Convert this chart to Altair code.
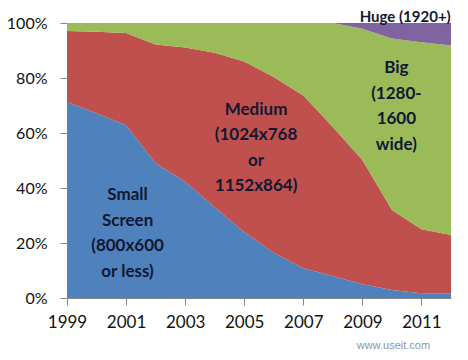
import altair as alt
import pandas as pd

years = list(range(1999, 2013))
small = [71.3, 67.2, 62.8, 49.0, 42.3, 33.0, 24.0, 16.5, 10.8, 8.0, 5.0, 2.9, 1.7, 1.7]
medium = [25.8, 29.6, 33.6, 43.2, 48.8, 56.2, 62.0, 63.9, 62.8, 54.2, 45.2, 29.1, 23.3, 21.2]
big = [2.9, 3.2, 3.6, 7.8, 8.9, 10.8, 14.0, 19.6, 26.4, 37.8, 47.7, 62.4, 68.0, 68.9]
huge = [0.0, 0.0, 0.0, 0.0, 0.0, 0.0, 0.0, 0.0, 0.0, 0.0, 2.1, 5.6, 7.0, 8.2]

series_names = ["Small", "Medium", "Big", "Huge"]
series_values = [small, medium, big, huge]
colors = ["#4F81BD", "#C0504D", "#9BBB59", "#8064A2"]

rows = []
for i, (name, vals) in enumerate(zip(series_names, series_values)):
    for yr, v in zip(years, vals):
        rows.append({"year": yr, "series": name, "share": v, "order": i})
df = pd.DataFrame(rows)

FONT = "Lato"
TXT = "#111833"
AXC = "#868686"

area = alt.Chart(df).mark_area(opacity=1, clip=True).encode(
    x=alt.X("year:Q",
            scale=alt.Scale(domain=[1999, 2012], nice=False, zero=False),
            axis=alt.Axis(values=years, title=None, grid=False,
                          labelExpr="datum.value % 2 == 1 ? datum.value : ''",
                          labelFont=FONT, labelFontSize=17, labelColor="#111",
                          labelPadding=9, tickSize=7, tickColor=AXC,
                          domainColor=AXC, labelOverlap=False, labelFlush=False)),
    y=alt.Y("share:Q", stack="zero",
            scale=alt.Scale(domain=[0, 100], nice=False),
            axis=alt.Axis(values=list(range(0, 101, 10)), title=None, grid=False,
                          labelExpr="datum.value % 20 == 0 ? datum.value + '%' : ''",
                          labelFont=FONT, labelFontSize=16, labelColor="#111",
                          labelPadding=13, tickSize=7, tickColor=AXC,
                          domainColor=AXC, labelOverlap=False, labelFlush=False)),
    color=alt.Color("series:N", scale=alt.Scale(domain=series_names, range=colors), legend=None),
    order=alt.Order("order:Q"),
)

def label(lines, x, y, size=17, color=TXT, bold=True, font=FONT):
    return alt.Chart().mark_text(
        text=lines, font=font, fontSize=size, fontWeight="bold" if bold else "normal",
        color=color, align="center", baseline="middle", lineHeight=25.5,
    ).encode(x=alt.datum(x), y=alt.datum(y))

labels = [
    label(["Small", "Screen", "(800x600", "or less)"], 2001.05, 37.4),
    label(["Medium", "(1024x768", "or", "1152x864)"], 2005.4, 68.4),
    label(["Big", "(1280-", "1600", "wide)"], 2010.15, 83.6),
    label("Huge (1920+)", 2010.45, 102.1, size=15),
    label("www.useit.com", 2010.05, -17.5, size=11, color="#8797aa", bold=False, font="Liberation Sans"),
]

chart = alt.layer(area, *labels).properties(
    width=384, height=275,
    autosize=alt.AutoSizeParams(type="none"),
    padding={"left": 59, "top": 15, "right": 8, "bottom": 53},
    background="white",
).configure_view(stroke=None)

chart.save("out.html", embed_options={"renderer": "svg", "actions": False})
